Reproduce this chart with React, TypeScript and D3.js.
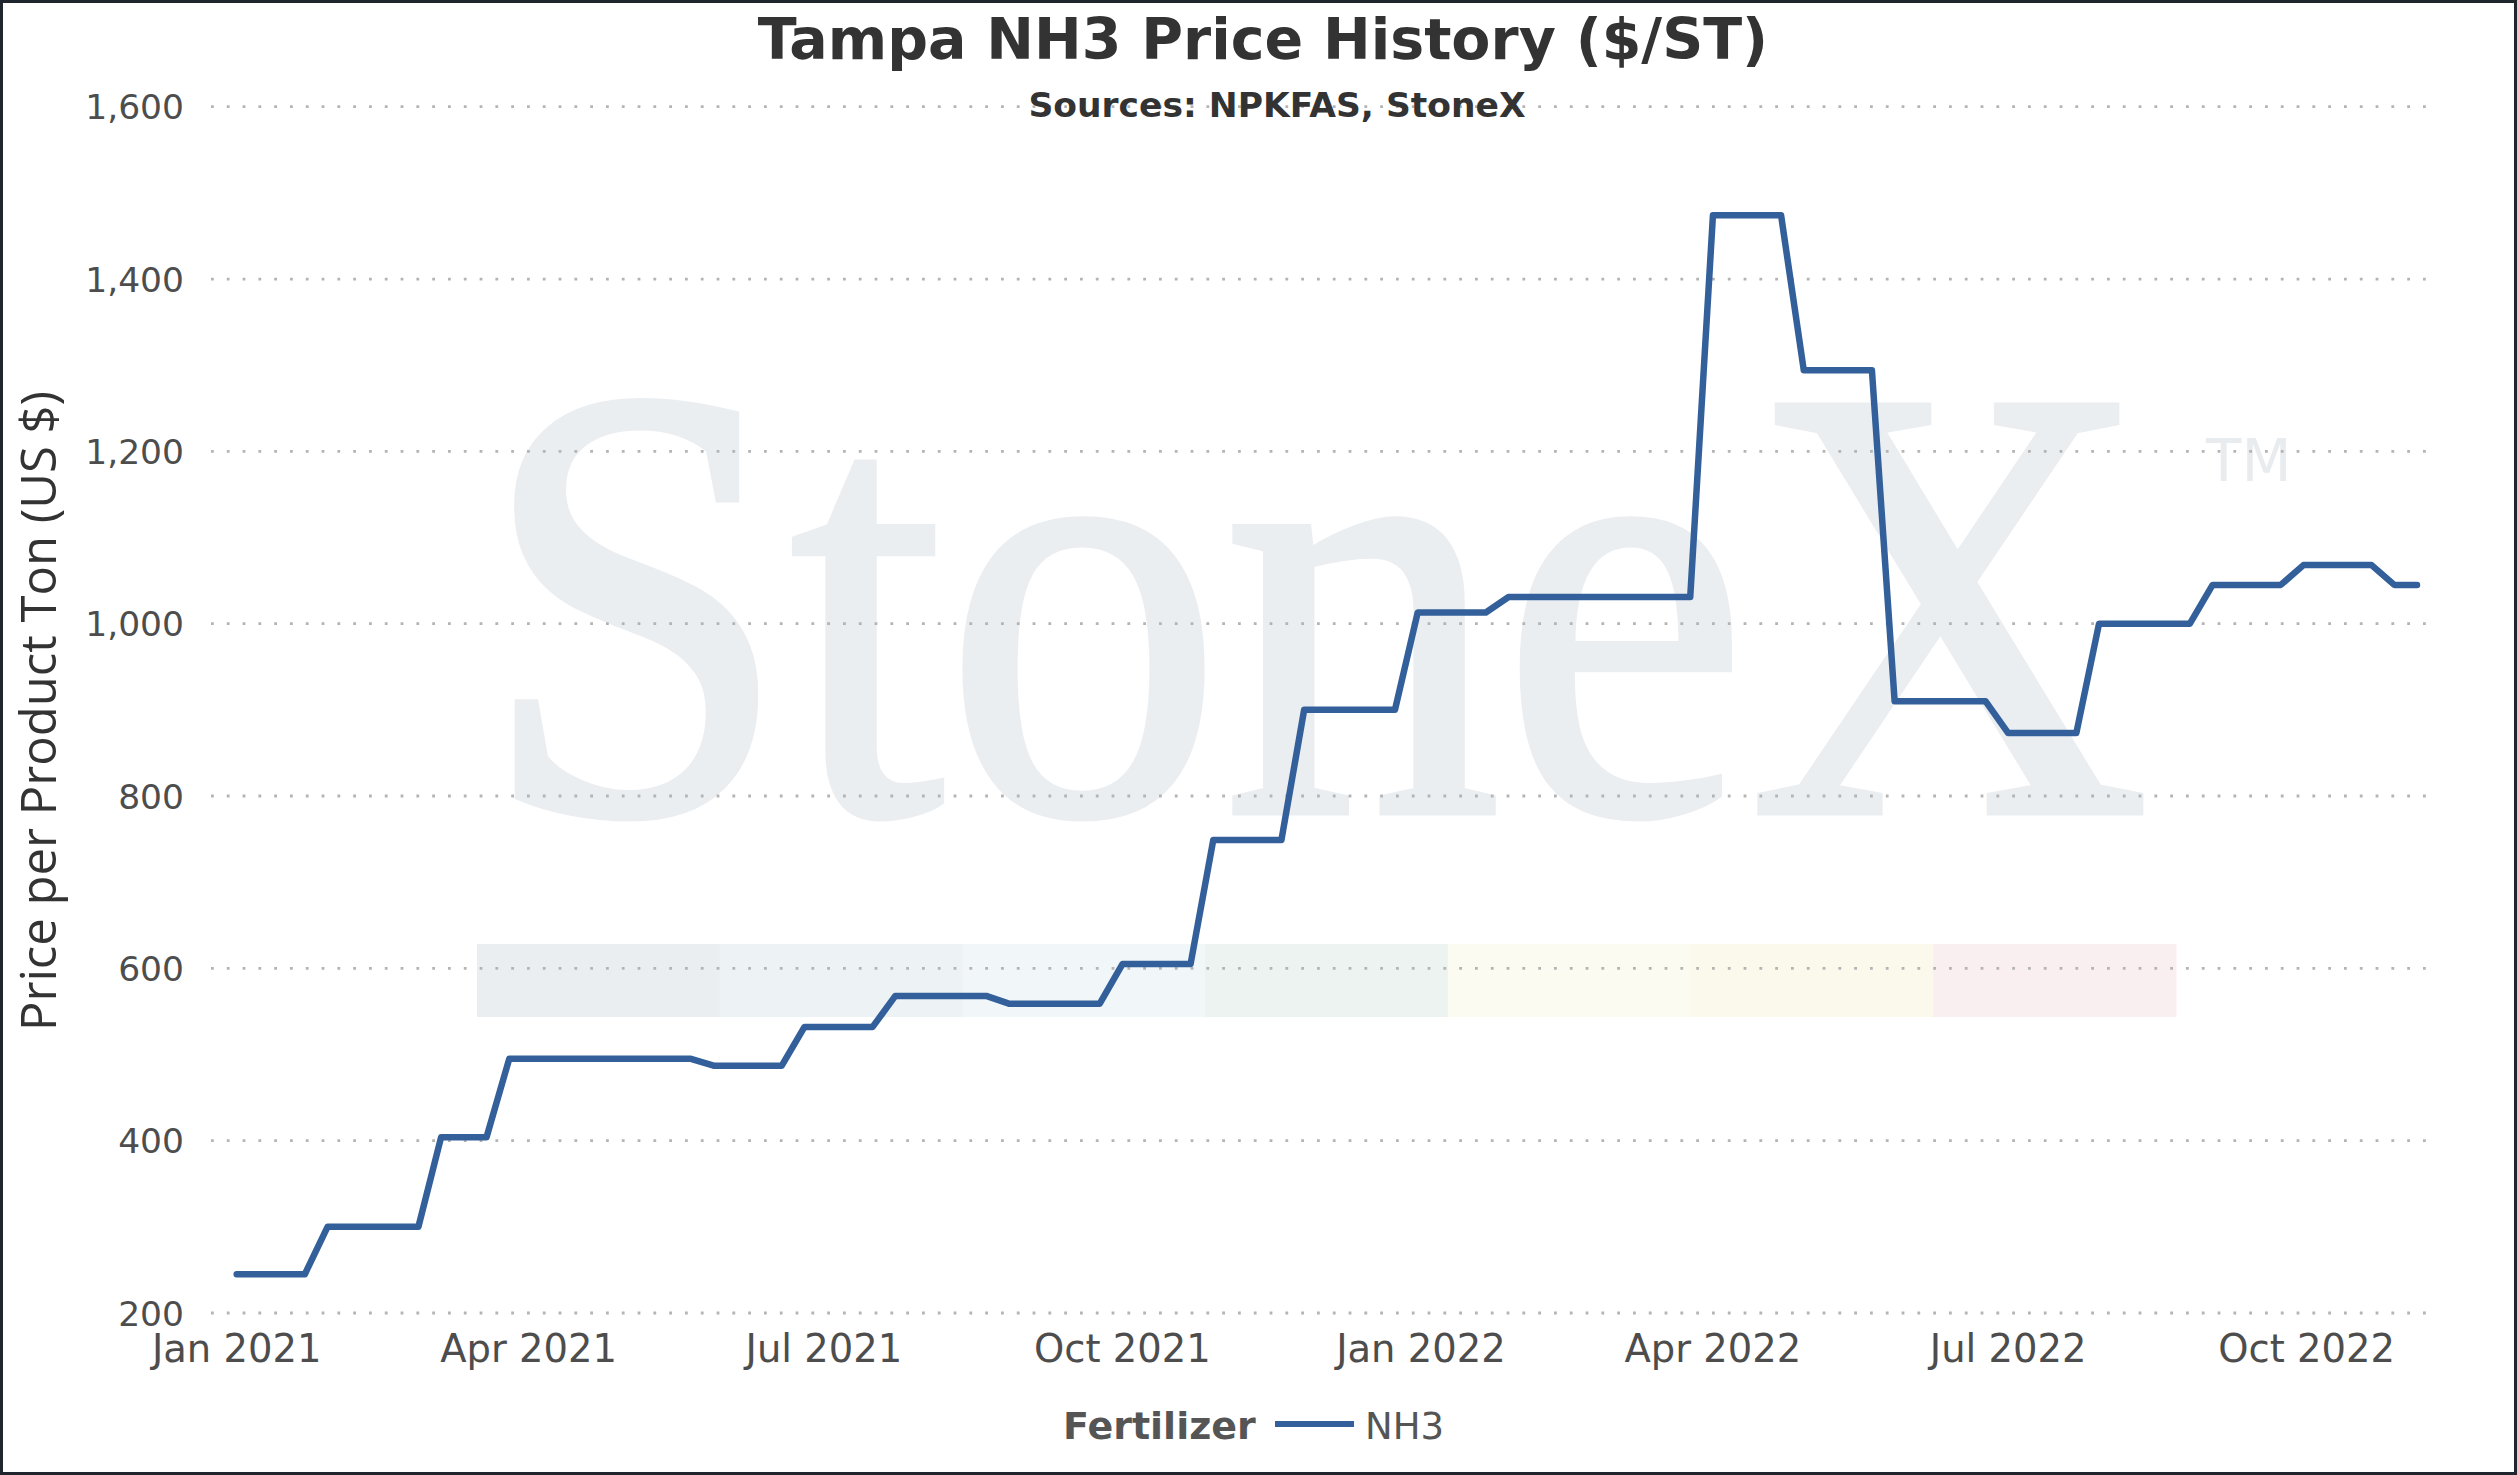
import React from "react"
import * as d3 from "d3"

// weekly Tampa NH3 quotes, first week = Jan 1 2021
const START_DATE = new Date(2021, 0, 1)
const WEEKLY_PRICE = [
  245, 245, 245, 245,
  300, 300, 300, 300, 300,
  404, 404, 404,
  495, 495, 495, 495, 495, 495, 495, 495, 495,
  487, 487, 487, 487,
  532, 532, 532, 532,
  568, 568, 568, 568, 568,
  559, 559, 559, 559, 559,
  605, 605, 605, 605,
  749, 749, 749, 749,
  900, 900, 900, 900, 900,
  1013, 1013, 1013, 1013,
  1031, 1031, 1031, 1031, 1031, 1031, 1031, 1031, 1031,
  1474, 1474, 1474, 1474,
  1294, 1294, 1294, 1294,
  910, 910, 910, 910, 910,
  873, 873, 873, 873,
  1000, 1000, 1000, 1000, 1000,
  1045, 1045, 1045, 1045,
  1068, 1068, 1068, 1068,
  1045, 1045,
]

const X_TICKS = [
  new Date(2021, 0, 1), new Date(2021, 3, 1), new Date(2021, 6, 1), new Date(2021, 9, 1),
  new Date(2022, 0, 1), new Date(2022, 3, 1), new Date(2022, 6, 1), new Date(2022, 9, 1),
]
const Y_TICKS = [200, 400, 600, 800, 1000, 1200, 1400, 1600]

const TITLE = "Tampa NH3 Price History ($/ST)"
const SUBTITLE = "Sources: NPKFAS, StoneX"
const Y_TITLE = "Price per Product Ton (US $)"
const LEGEND_TITLE = "Fertilizer"
const SERIES_NAME = "NH3"

// colour strip of the watermark logo
const LOGO_STRIP = ["#ebeef1", "#edf2f5", "#f1f6f9", "#edf3f0", "#fbfbf1", "#fbf8ec", "#f9eef0"]

const W = 2517
const H = 1475
const PLOT = { left: 211, right: 2435, top: 106.7, bottom: 1313 }
const LINE_COLOR = "#33609a"
const SANS = "'DejaVu Sans', Verdana, sans-serif"

export default function App() {
  const data = WEEKLY_PRICE.map((v, i) => ({ date: d3.timeDay.offset(START_DATE, i * 7), value: v }))

  const x = d3
    .scaleTime()
    .domain([data[0].date, data[data.length - 1].date])
    .range([236.7, 2417])

  const y = d3.scaleLinear().domain([200, 1600]).range([PLOT.bottom, PLOT.top])

  const line = d3
    .line<{ date: Date; value: number }>()
    .x((d) => x(d.date))
    .y((d) => y(d.value))

  const strip = d3.scaleBand<number>().domain(LOGO_STRIP.map((_, i) => i)).range([477, 2176])

  const fmtY = d3.format(",")
  const fmtX = d3.timeFormat("%b %Y")

  return (
    <div style={{ position: "absolute", left: 0, top: 0 }}>
      <svg width={W} height={H} style={{ display: "block", background: "#fff" }}>
        {/* watermark */}
        <g>
          {LOGO_STRIP.map((c, i) => (
            <rect key={i} x={strip(i)} y={944} width={strip.bandwidth() + 0.5} height={73} fill={c} />
          ))}
          <text
            transform="translate(480,812) scale(0.898,1)"
            fontFamily="'Liberation Serif', 'Times New Roman', serif"
            fontSize={620}
            fill="#ebeef1"
            stroke="#ebeef1"
            strokeWidth={7}
          >
            StoneX
          </text>
          <text x={2206} y={481} fontFamily={SANS} fontSize={58} fill="#e9ecef">
            TM
          </text>
        </g>

        {/* gridlines */}
        <g>
          {Y_TICKS.map((t) => (
            <line
              key={t}
              x1={PLOT.left}
              x2={PLOT.right}
              y1={y(t)}
              y2={y(t)}
              stroke="#b4b4b4"
              strokeWidth={2.8}
              strokeDasharray="2.8 13"
            />
          ))}
        </g>

        {/* y tick labels */}
        <g fontFamily={SANS} fontSize={34.5} fill="#4d4d4d" textAnchor="end">
          {Y_TICKS.map((t) => (
            <text key={t} x={184} y={y(t) + 12.5}>
              {fmtY(t)}
            </text>
          ))}
        </g>

        {/* x tick labels */}
        <g fontFamily={SANS} fontSize={38.5} fill="#4d4d4d" textAnchor="middle">
          {X_TICKS.map((t) => (
            <text key={t.getTime()} x={x(t)} y={1362}>
              {fmtX(t)}
            </text>
          ))}
        </g>

        {/* series */}
        <path
          d={line(data) ?? ""}
          fill="none"
          stroke={LINE_COLOR}
          strokeWidth={6.5}
          strokeLinejoin="round"
          strokeLinecap="round"
        />

        {/* titles */}
        <text x={1263} y={59} textAnchor="middle" fontFamily={SANS} fontWeight="bold" fontSize={57} fill="#333">
          {TITLE}
        </text>
        <text x={1277} y={117} textAnchor="middle" fontFamily={SANS} fontWeight="bold" fontSize={34.5} fill="#333">
          {SUBTITLE}
        </text>
        <text
          transform="translate(56,711) rotate(-90)"
          textAnchor="middle"
          fontFamily="'Open Sans', sans-serif"
          fontSize={49}
          fill="#333"
        >
          {Y_TITLE}
        </text>

        {/* legend */}
        <g fontFamily={SANS} fill="#555">
          <text x={1063} y={1439} fontSize={38} fontWeight="bold">
            {LEGEND_TITLE}
          </text>
          <line x1={1275} x2={1354} y1={1424} y2={1424} stroke={LINE_COLOR} strokeWidth={6} />
          <text x={1365} y={1439} fontSize={37}>
            {SERIES_NAME}
          </text>
        </g>

        {/* frame */}
        <rect x={1.5} y={1.5} width={W - 3} height={H - 3} fill="none" stroke="#1f262d" strokeWidth={3} />
      </svg>
    </div>
  )
}
